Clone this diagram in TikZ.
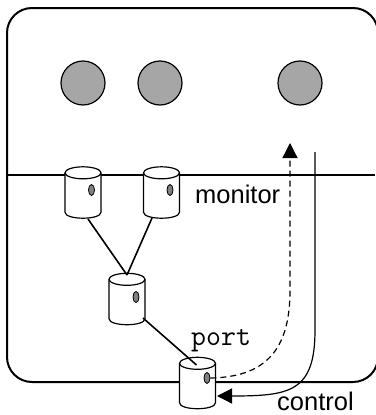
\documentclass[tikz,border=0pt]{standalone}
\usepackage{fontspec}
\setmainfont{Liberation Sans}
\usetikzlibrary{shapes.geometric,arrows.meta}
\definecolor{ballgray}{RGB}{166,166,166}
\definecolor{dotgray}{RGB}{128,128,128}
% cylinder: #1 name, #2 x, #3 y (centre), height 51, width 36
\newcommand\mkcyl[3]{%
  \node[cylbox] (#1) at (#2,#3) {};
  \path[cylline,fill=white]
    ([shift={(-18,6)}]#1.north) -- ([shift={(-18,-6)}]#1.south)
    .. controls ([shift={(-18,2)}]#1.south) and ([shift={(18,2)}]#1.south) .. ([shift={(18,-6)}]#1.south)
    -- ([shift={(18,6)}]#1.north) -- cycle;
  \draw[cylline]
    ([shift={(-18,6)}]#1.north) -- ([shift={(-18,-6)}]#1.south)
    .. controls ([shift={(-18,2)}]#1.south) and ([shift={(18,2)}]#1.south) .. ([shift={(18,-6)}]#1.south)
    -- ([shift={(18,6)}]#1.north);
  \draw[cylline,fill=white] ([shift={(0,6)}]#1.north) ellipse (18 and 6);
}
\begin{document}
\begin{tikzpicture}[x=1pt,y=-1pt,
  host/.style={draw,line width=2pt,rounded corners=25pt},
  ball/.style={circle,draw,line width=1.2pt,fill=ballgray,minimum size=44pt,inner sep=0pt},
  cylbox/.style={rectangle,minimum width=36pt,minimum height=51pt,inner sep=0pt},
  cylline/.style={line width=1.2pt},
  pdot/.style={ellipse,draw,line width=0.8pt,fill=dotgray,minimum width=6pt,minimum height=11pt,inner sep=0pt},
  link/.style={line width=1.6pt},
  flow/.style={line width=1.2pt,-{Triangle[length=15pt,width=15pt]}},
  lbl/.style={inner sep=0pt,font=\fontsize{25.5pt}{28pt}\selectfont},
  portlbl/.style={inner sep=0pt,font=\ttfamily\fontsize{29pt}{32pt}\selectfont}]
\useasboundingbox (0,0) rectangle (375,415);
% host frame
\draw[host] (7,8) rectangle (378,382);
\coordinate (hl) at (7,175);
\coordinate (hr) at (375,175);
\draw[line width=1.2pt] (hl) -- (hr);
% balls
\node[ball] (b1) at (83,83) {};
\node[ball] (b2) at (160,83) {};
\node[ball] (b3) at (300,83) {};
% cylinders
\mkcyl{c1}{83}{192.5}
\mkcyl{c2}{161.5}{192.5}
\mkcyl{c3}{127}{299}
\mkcyl{c4}{197.5}{383}
% dots
\node[pdot] (d1) at ([shift={(8.5,-2.5)}]c1.center) {};
\node[pdot] (d2) at ([shift={(8.5,-2.5)}]c2.center) {};
\node[pdot] (d3) at ([shift={(9,-2)}]c3.center) {};
\node[pdot] (d4) at ([shift={(9.5,-5)}]c4.center) {};
% links
\draw[link] ([shift={(5,26.5)}]c1.center) -- ([shift={(0,-24)}]c3.center);
\draw[link] ([shift={(-9.5,25.5)}]c2.center) -- ([shift={(0,-24)}]c3.center);
\draw[link] ([shift={(16,19)}]c3.center) -- ([shift={(-1,-18)}]c4.center);
% labels
\node[lbl,anchor=base west] (mon) at (195,203) {monitor};
\node[portlbl,anchor=base west] (prt) at (191,345) {port};
\node[lbl,anchor=base west] (ctl) at (277,410) {control};
% monitor (dashed) flow
\coordinate (mt) at (290,143);
\draw[flow,dash pattern=on 6pt off 4pt] (d4.east) .. controls (270,377) and (290,345) .. (290,290) -- (mt);
% control (solid) flow
\coordinate (ct) at (315,152);
\coordinate (cin) at (217,396);
\draw[flow] (ct) -- (315,330) .. controls (315,392) and (290,396) .. (cin);
\end{tikzpicture}
\end{document}
